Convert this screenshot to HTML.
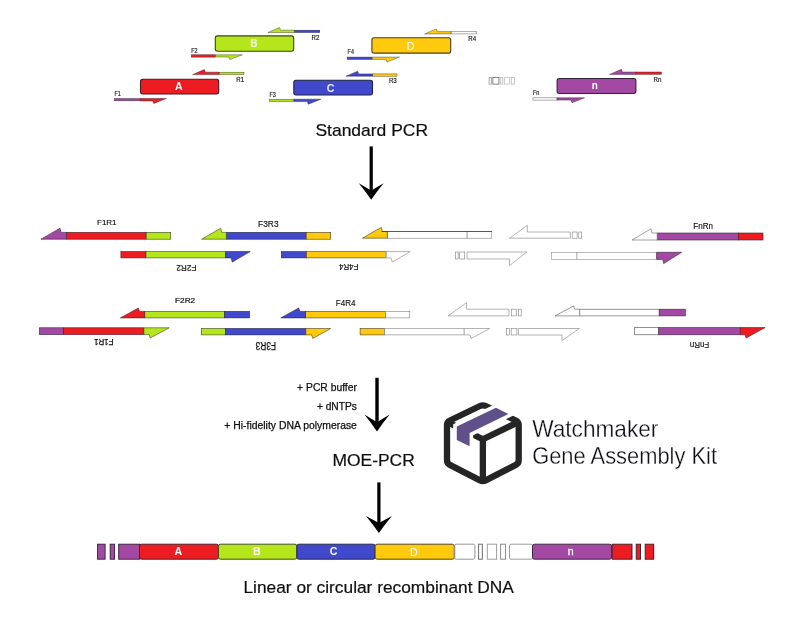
<!DOCTYPE html>
<html><head><meta charset="utf-8"><title>MOE-PCR</title>
<style>
html,body{margin:0;padding:0;background:#fff;}
body{width:794px;height:625px;overflow:hidden;}
svg{display:block;font-family:"Liberation Sans",sans-serif;}
</style></head><body>
<svg width="794" height="625" viewBox="0 0 794 625">
<defs>
<filter id="bl" x="-5%" y="-5%" width="110%" height="110%"><feGaussianBlur stdDeviation="0.68"/></filter>
<filter id="bl2" x="-5%" y="-5%" width="110%" height="110%"><feGaussianBlur stdDeviation="0.4"/></filter>
</defs>
<rect width="794" height="625" fill="#fff"/>
<g filter="url(#bl)">
<rect x="140.5" y="79.3" width="78.2" height="14.7" rx="2.2" fill="#ed1c24" stroke="#451b21" stroke-width="1.1"/>
<text x="178.8" y="90.0" font-size="10.6" font-weight="bold" fill="#fff" fill-opacity="1" text-anchor="middle">A</text>
<rect x="215.3" y="35.9" width="78.4" height="15.3" rx="2.2" fill="#b5e61d" stroke="#3a441f" stroke-width="1.1"/>
<text x="253.9" y="46.5" font-size="10.2" font-weight="bold" fill="#fff" fill-opacity="0.88" text-anchor="middle">B</text>
<rect x="293.8" y="80.2" width="78.7" height="14.8" rx="2.2" fill="#3f48cc" stroke="#222442" stroke-width="1.1"/>
<text x="330.6" y="92.3" font-size="10.6" font-weight="bold" fill="#fff" fill-opacity="0.9" text-anchor="middle">C</text>
<rect x="371.9" y="37.8" width="78.8" height="15.3" rx="2.2" fill="#ffc90e" stroke="#493e1c" stroke-width="1.1"/>
<text x="410.5" y="50.3" font-size="10.6" font-weight="normal" fill="#fff" fill-opacity="1" text-anchor="middle">D</text>
<rect x="557.1" y="78.5" width="78.8" height="15.0" rx="2.2" fill="#a349a4" stroke="#36243a" stroke-width="1.1"/>
<text x="594.9" y="89.1" font-size="10" font-weight="bold" fill="#fff" fill-opacity="1" text-anchor="middle">n</text>
<rect x="114.5" y="98.5" width="25.7" height="2.3" fill="#a349a4" stroke="#36243a" stroke-width="0.45"/>
<polygon points="140.2,98.5 166.3,98.5 153.8,103.5 152.8,100.9 140.2,100.9" fill="#ed1c24" stroke="#451b21" stroke-width="0.45"/>
<rect x="219" y="72.2" width="25.0" height="2.3" fill="#b5e61d" stroke="#3a441f" stroke-width="0.45"/>
<polygon points="219,74.6 192.7,74.6 204.4,69.5 205.4,72.2 219,72.2" fill="#ed1c24" stroke="#451b21" stroke-width="0.45"/>
<rect x="191.3" y="54.8" width="24.2" height="2.3" fill="#ed1c24" stroke="#451b21" stroke-width="0.45"/>
<polygon points="215.5,54.8 242.3,54.8 229.8,59.6 228.8,57.0 215.5,57.0" fill="#b5e61d" stroke="#3a441f" stroke-width="0.45"/>
<rect x="294.3" y="30.2" width="25.5" height="2.3" fill="#3f48cc" stroke="#222442" stroke-width="0.45"/>
<polygon points="294.3,32.5 267.9,32.5 279.6,27.5 280.6,30.2 294.3,30.2" fill="#b5e61d" stroke="#3a441f" stroke-width="0.45"/>
<rect x="269.4" y="99.2" width="24.6" height="2.3" fill="#b5e61d" stroke="#3a441f" stroke-width="0.45"/>
<polygon points="294,99.2 320.8,99.2 308.3,104.2 307.3,101.6 294,101.6" fill="#3f48cc" stroke="#222442" stroke-width="0.45"/>
<rect x="372.4" y="73.9" width="24.6" height="2.3" fill="#ffc90e" stroke="#493e1c" stroke-width="0.45"/>
<polygon points="372.4,76.2 346,76.2 357.7,71.2 358.7,73.9 372.4,73.9" fill="#3f48cc" stroke="#222442" stroke-width="0.45"/>
<rect x="347.2" y="57.1" width="25.1" height="2.3" fill="#3f48cc" stroke="#222442" stroke-width="0.45"/>
<polygon points="372.3,57.1 399.5,57.1 387.0,62.0 386.0,59.4 372.3,59.4" fill="#ffc90e" stroke="#493e1c" stroke-width="0.45"/>
<rect x="451" y="31.6" width="25.4" height="2.3" fill="#ffffff" stroke="#777" stroke-width="0.6"/>
<polygon points="451,33.9 424.6,33.9 436.3,28.9 437.3,31.6 451,31.6" fill="#ffc90e" stroke="#493e1c" stroke-width="0.45"/>
<rect x="532.9" y="97.8" width="24.1" height="2.3" fill="#ffffff" stroke="#777" stroke-width="0.6"/>
<polygon points="557,97.8 584.5,97.8 572.0,102.7 571.0,100.1 557,100.1" fill="#a349a4" stroke="#36243a" stroke-width="0.45"/>
<rect x="635.6" y="72.0" width="25.8" height="2.3" fill="#ed1c24" stroke="#451b21" stroke-width="0.45"/>
<polygon points="635.6,74.4 609.7,74.4 621.4,69.3 622.4,72.0 635.6,72.0" fill="#a349a4" stroke="#36243a" stroke-width="0.45"/>
<rect x="489.1" y="77.5" width="2.5" height="6.6" fill="#fff" stroke="#888" stroke-width="0.7"/>
<rect x="492.9" y="77.5" width="6.0" height="6.6" fill="#fff" stroke="#555" stroke-width="0.7"/>
<rect x="500.2" y="77.5" width="2.6" height="6.6" fill="#fff" stroke="#aaa" stroke-width="0.7"/>
<rect x="504.6" y="77.5" width="5.0" height="6.6" fill="#fff" stroke="#bbb" stroke-width="0.7"/>
<rect x="511.2" y="77.5" width="3.1" height="6.6" fill="#fff" stroke="#aaa" stroke-width="0.7"/>
<text x="114.5" y="96" font-size="6.8" text-anchor="start" fill="#111" stroke="#111" stroke-width="0.15" textLength="6.3" lengthAdjust="spacingAndGlyphs">F1</text>
<text x="244.2" y="81.8" font-size="6.8" text-anchor="end" fill="#111" stroke="#111" stroke-width="0.15" textLength="7.9" lengthAdjust="spacingAndGlyphs">R1</text>
<text x="191.3" y="52.5" font-size="6.8" text-anchor="start" fill="#111" stroke="#111" stroke-width="0.15" textLength="6.3" lengthAdjust="spacingAndGlyphs">F2</text>
<text x="319.5" y="40" font-size="6.8" text-anchor="end" fill="#111" stroke="#111" stroke-width="0.15" textLength="7.9" lengthAdjust="spacingAndGlyphs">R2</text>
<text x="269.4" y="97.2" font-size="6.8" text-anchor="start" fill="#111" stroke="#111" stroke-width="0.15" textLength="6.3" lengthAdjust="spacingAndGlyphs">F3</text>
<text x="396.8" y="82.5" font-size="6.8" text-anchor="end" fill="#111" stroke="#111" stroke-width="0.15" textLength="7.9" lengthAdjust="spacingAndGlyphs">R3</text>
<text x="347.6" y="53.8" font-size="6.8" text-anchor="start" fill="#111" stroke="#111" stroke-width="0.15" textLength="6.3" lengthAdjust="spacingAndGlyphs">F4</text>
<text x="476.2" y="41.4" font-size="6.8" text-anchor="end" fill="#111" stroke="#111" stroke-width="0.15" textLength="7.9" lengthAdjust="spacingAndGlyphs">R4</text>
<text x="532.9" y="94.8" font-size="6.8" text-anchor="start" fill="#111" stroke="#111" stroke-width="0.15" textLength="6.3" lengthAdjust="spacingAndGlyphs">Fn</text>
<text x="661.4" y="81.6" font-size="6.8" text-anchor="end" fill="#111" stroke="#111" stroke-width="0.15" textLength="7.9" lengthAdjust="spacingAndGlyphs">Rn</text>
</g>
<g filter="url(#bl)">
<rect x="66.5" y="232.4" width="79.7" height="6.8" fill="#ed1c24" stroke="#451b21" stroke-width="0.6"/>
<rect x="146.2" y="232.4" width="24.5" height="6.8" fill="#b5e61d" stroke="#3a441f" stroke-width="0.6"/>
<polygon points="41,239.2 60.0,228.2 61.0,232.4 66.5,232.4 66.5,239.2" fill="#a349a4" stroke="#36243a" stroke-width="0.6" stroke-linejoin="miter"/>
<rect x="226.4" y="232.4" width="79.8" height="6.8" fill="#3f48cc" stroke="#222442" stroke-width="0.6"/>
<rect x="306.2" y="232.4" width="24.5" height="6.8" fill="#ffc90e" stroke="#493e1c" stroke-width="0.6"/>
<polygon points="201.7,239.2 220.7,228.2 221.7,232.4 226.4,232.4 226.4,239.2" fill="#b5e61d" stroke="#3a441f" stroke-width="0.6" stroke-linejoin="miter"/>
<rect x="387.3" y="231.5" width="79.8" height="6.7" fill="#ffffff" stroke="#808080" stroke-width="0.6"/>
<rect x="467.1" y="231.5" width="24.7" height="6.7" fill="#ffffff" stroke="#808080" stroke-width="0.6"/>
<polygon points="362.4,238.2 381.4,227.3 382.4,231.5 387.3,231.5 387.3,238.2" fill="#ffc90e" stroke="#493e1c" stroke-width="0.6" stroke-linejoin="miter"/>
<path d="M381.5 231.5 H491.8" stroke="#333" stroke-width="0.7" fill="none"/>
<polygon points="509.5,238.2 527.3,225.4 527.3,232 570.3,232 570.3,238.2" fill="#fff" stroke="#808080" stroke-width="0.6"/>
<rect x="572.2" y="232" width="4.9" height="6.2" fill="#fff" stroke="#808080" stroke-width="0.6"/>
<rect x="578.8" y="232" width="2.9" height="6.2" fill="#fff" stroke="#808080" stroke-width="0.6"/>
<rect x="657.2" y="233" width="81.3" height="7.0" fill="#a349a4" stroke="#36243a" stroke-width="0.6"/>
<rect x="738.5" y="233" width="24.5" height="7.0" fill="#ed1c24" stroke="#451b21" stroke-width="0.6"/>
<polygon points="632,240 651.0,228.8 652.0,233 657.2,233 657.2,240" fill="#ffffff" stroke="#666" stroke-width="0.6" stroke-linejoin="miter"/>
<text x="106.8" y="224.8" font-size="7.9" text-anchor="middle" fill="#111" stroke="#111" stroke-width="0.15" textLength="19.5" lengthAdjust="spacingAndGlyphs">F1R1</text>
<text x="268.3" y="226.8" font-size="9.6" text-anchor="middle" fill="#111" stroke="#111" stroke-width="0.15" textLength="20.5" lengthAdjust="spacingAndGlyphs">F3R3</text>
<text x="703.1" y="229.0" font-size="8.7" text-anchor="middle" fill="#111" stroke="#111" stroke-width="0.15" textLength="19.6" lengthAdjust="spacingAndGlyphs">FnRn</text>
<rect x="120.9" y="251.6" width="25.1" height="6.3" fill="#ed1c24" stroke="#451b21" stroke-width="0.6"/>
<rect x="146" y="251.6" width="79.6" height="6.3" fill="#b5e61d" stroke="#3a441f" stroke-width="0.6"/>
<polygon points="250.2,251.6 232.2,262.1 231.2,257.9 225.6,257.9 225.6,251.6" fill="#3f48cc" stroke="#222442" stroke-width="0.6" stroke-linejoin="miter"/>
<rect x="281.4" y="251.6" width="24.9" height="6.3" fill="#3f48cc" stroke="#222442" stroke-width="0.6"/>
<rect x="306.3" y="251.6" width="79.9" height="6.3" fill="#ffc90e" stroke="#493e1c" stroke-width="0.6"/>
<polygon points="410.2,251.6 392.2,262.1 391.2,257.9 386.2,257.9 386.2,251.6" fill="#ffffff" stroke="#808080" stroke-width="0.6" stroke-linejoin="miter"/>
<rect x="455.4" y="252" width="2.8" height="7.0" fill="#fff" stroke="#808080" stroke-width="0.6"/>
<rect x="459.7" y="252" width="5.0" height="7.0" fill="#fff" stroke="#808080" stroke-width="0.6"/>
<polygon points="526.9,252 509.5,265.6 509.5,259 467,259 467,252" fill="#fff" stroke="#808080" stroke-width="0.6"/>
<rect x="551.4" y="252.3" width="25.6" height="7.1" fill="#ffffff" stroke="#8c8c8c" stroke-width="0.6"/>
<rect x="577" y="252.3" width="79.7" height="7.1" fill="#ffffff" stroke="#8c8c8c" stroke-width="0.6"/>
<polygon points="681.7,252.3 663.7,263.6 662.7,259.4 656.7,259.4 656.7,252.3" fill="#a349a4" stroke="#36243a" stroke-width="0.6" stroke-linejoin="miter"/>
<text transform="translate(186.4,264.7) rotate(180)" font-size="9.6" text-anchor="middle" fill="#111" stroke="#111" stroke-width="0.15" textLength="20.1" lengthAdjust="spacingAndGlyphs">F2R2</text>
<text transform="translate(348.7,264.2) rotate(180)" font-size="8.8" text-anchor="middle" fill="#111" stroke="#111" stroke-width="0.15" textLength="19.4" lengthAdjust="spacingAndGlyphs">F4R4</text>
<rect x="144.7" y="311.4" width="80.0" height="6.5" fill="#b5e61d" stroke="#3a441f" stroke-width="0.6"/>
<rect x="224.7" y="311.4" width="24.8" height="6.5" fill="#3f48cc" stroke="#222442" stroke-width="0.6"/>
<polygon points="120.4,317.9 138.4,308.0 139.4,311.4 144.7,311.4 144.7,317.9" fill="#ed1c24" stroke="#451b21" stroke-width="0.6" stroke-linejoin="miter"/>
<rect x="305.5" y="311.4" width="80.1" height="6.5" fill="#ffc90e" stroke="#493e1c" stroke-width="0.6"/>
<rect x="385.6" y="311.4" width="24.2" height="6.5" fill="#ffffff" stroke="#808080" stroke-width="0.6"/>
<polygon points="280.8,317.9 298.8,308.0 299.8,311.4 305.5,311.4 305.5,317.9" fill="#3f48cc" stroke="#222442" stroke-width="0.6" stroke-linejoin="miter"/>
<polygon points="448.2,315.9 466.5,302.7 466.5,309.2 509,309.2 509,315.9" fill="#fff" stroke="#808080" stroke-width="0.6"/>
<rect x="511.3" y="309.2" width="5.2" height="6.7" fill="#fff" stroke="#808080" stroke-width="0.6"/>
<rect x="518.3" y="309.2" width="2.9" height="6.7" fill="#fff" stroke="#808080" stroke-width="0.6"/>
<rect x="579.7" y="309.2" width="79.5" height="6.7" fill="#ffffff" stroke="#555" stroke-width="0.6"/>
<rect x="659.2" y="309.2" width="26.1" height="6.7" fill="#a349a4" stroke="#36243a" stroke-width="0.6"/>
<polygon points="555,315.9 573.6,306.0 574.6,309.2 579.7,309.2 579.7,315.9" fill="#ffffff" stroke="#555" stroke-width="0.6" stroke-linejoin="miter"/>
<text x="185.1" y="302.8" font-size="8.1" text-anchor="middle" fill="#111" stroke="#111" stroke-width="0.22" textLength="20.0" lengthAdjust="spacingAndGlyphs">F2R2</text>
<text x="345.7" y="305.8" font-size="9.3" text-anchor="middle" fill="#111" stroke="#111" stroke-width="0.15" textLength="19.7" lengthAdjust="spacingAndGlyphs">F4R4</text>
<rect x="39.4" y="327.8" width="24.2" height="6.8" fill="#a349a4" stroke="#36243a" stroke-width="0.6"/>
<rect x="63.6" y="327.8" width="80.3" height="6.8" fill="#ed1c24" stroke="#451b21" stroke-width="0.6"/>
<polygon points="169.2,327.8 150.2,338.0 149.2,334.6 143.9,334.6 143.9,327.8" fill="#b5e61d" stroke="#3a441f" stroke-width="0.6" stroke-linejoin="miter"/>
<rect x="201.3" y="328.5" width="24.2" height="6.4" fill="#b5e61d" stroke="#3a441f" stroke-width="0.6"/>
<rect x="225.5" y="328.5" width="80.3" height="6.4" fill="#3f48cc" stroke="#222442" stroke-width="0.6"/>
<polygon points="330.7,328.5 312.7,338.5 311.7,334.9 305.8,334.9 305.8,328.5" fill="#ffc90e" stroke="#493e1c" stroke-width="0.6" stroke-linejoin="miter"/>
<rect x="360.1" y="328.5" width="24.5" height="6.4" fill="#ffc90e" stroke="#493e1c" stroke-width="0.6"/>
<rect x="384.6" y="328.5" width="79.6" height="6.4" fill="#ffffff" stroke="#808080" stroke-width="0.6"/>
<polygon points="489.7,328.5 471.1,338.5 470.1,334.9 464.2,334.9 464.2,328.5" fill="#ffffff" stroke="#808080" stroke-width="0.6" stroke-linejoin="miter"/>
<rect x="506.6" y="328.5" width="2.9" height="6.5" fill="#fff" stroke="#808080" stroke-width="0.6"/>
<rect x="511.2" y="328.5" width="5.7" height="6.5" fill="#fff" stroke="#808080" stroke-width="0.6"/>
<polygon points="579.4,328.5 561.9,340.6 561.9,335 518.4,335 518.4,328.5" fill="#fff" stroke="#808080" stroke-width="0.6"/>
<rect x="634.7" y="327.6" width="24.1" height="7.2" fill="#ffffff" stroke="#444" stroke-width="0.6"/>
<rect x="658.8" y="327.6" width="81.5" height="7.2" fill="#a349a4" stroke="#36243a" stroke-width="0.6"/>
<polygon points="765.1,327.6 746.1,338.0 745.1,334.8 740.3,334.8 740.3,327.6" fill="#ed1c24" stroke="#451b21" stroke-width="0.6" stroke-linejoin="miter"/>
<text transform="translate(103.7,339.3) rotate(180)" font-size="8.9" text-anchor="middle" fill="#111" stroke="#111" stroke-width="0.25" textLength="19.4" lengthAdjust="spacingAndGlyphs">F1R1</text>
<text transform="translate(265.9,341.5) rotate(180)" font-size="10.0" text-anchor="middle" fill="#111" stroke="#111" stroke-width="0.25" textLength="20.3" lengthAdjust="spacingAndGlyphs">F3R3</text>
<text transform="translate(699.5,342.0) rotate(180)" font-size="8.7" text-anchor="middle" fill="#111" stroke="#111" stroke-width="0.15" textLength="19.6" lengthAdjust="spacingAndGlyphs">FnRn</text>
</g>
<g filter="url(#bl2)">
<rect x="369.6" y="146.4" width="3.2" height="46.2" fill="#000"/>
<path d="M371.2 199.7 Q365.90 191.95 358.8 183.2 L371.2 190.6 L383.59999999999997 183.2 Q376.50 191.95 371.2 199.7 Z" fill="#000"/>
<rect x="375.3" y="377.8" width="3.4" height="46.4" fill="#000"/>
<path d="M377 431.5 Q371.60 423.55 364.4 414.6 L377 422.2 L389.6 414.6 Q382.40 423.55 377 431.5 Z" fill="#000"/>
<rect x="377.3" y="482.4" width="3.2" height="42.6" fill="#000"/>
<path d="M378.9 533.0 Q373.30 525.05 365.9 516.1 L378.9 523.0 L391.9 516.1 Q384.50 525.05 378.9 533.0 Z" fill="#000"/>
<text x="371.75" y="136" font-size="16.4" text-anchor="middle" fill="#111" stroke="#111" stroke-width="0.2" textLength="112.6" lengthAdjust="spacingAndGlyphs">Standard PCR</text>
<text x="373.6" y="465.8" font-size="16.4" text-anchor="middle" fill="#111" stroke="#111" stroke-width="0.2" textLength="82.4" lengthAdjust="spacingAndGlyphs">MOE-PCR</text>
<text x="356.9" y="391.3" font-size="10" text-anchor="end" fill="#111" stroke="#111" stroke-width="0.25" textLength="59.8" lengthAdjust="spacingAndGlyphs">+ PCR buffer</text>
<text x="356.9" y="410.2" font-size="10" text-anchor="end" fill="#111" stroke="#111" stroke-width="0.25" textLength="40" lengthAdjust="spacingAndGlyphs">+ dNTPs</text>
<text x="356.9" y="429" font-size="10" text-anchor="end" fill="#111" stroke="#111" stroke-width="0.25" textLength="132.6" lengthAdjust="spacingAndGlyphs">+ Hi-fidelity DNA polymerase</text>
<text x="378.65" y="593.4" font-size="16.9" text-anchor="middle" fill="#111" stroke="#111" stroke-width="0.2" textLength="270.4" lengthAdjust="spacingAndGlyphs">Linear or circular recombinant DNA</text>
</g>
<g filter="url(#bl)">
<rect x="97.6" y="544.2" width="7.5" height="15.0" rx="0" fill="#a349a4" stroke="#36243a" stroke-width="0.95"/>
<rect x="110.2" y="544.2" width="4.4" height="15.0" rx="0" fill="#a349a4" stroke="#36243a" stroke-width="0.95"/>
<rect x="118.7" y="544.2" width="20.8" height="15.0" rx="0" fill="#a349a4" stroke="#36243a" stroke-width="0.95"/>
<rect x="139.5" y="544.2" width="79.0" height="15.0" rx="2" fill="#ed1c24" stroke="#451b21" stroke-width="0.95"/>
<text x="178.4" y="554.8" font-size="10.6" font-weight="bold" fill="#fff" stroke="#fff" stroke-width="0" text-anchor="middle">A</text>
<rect x="218.5" y="544.2" width="78.4" height="15.0" rx="2" fill="#b5e61d" stroke="#3a441f" stroke-width="0.95"/>
<text x="256.9" y="554.8" font-size="10.6" font-weight="bold" fill="#fff" stroke="#fff" stroke-width="0" text-anchor="middle">B</text>
<rect x="296.9" y="544.2" width="78.2" height="15.0" rx="2" fill="#3f48cc" stroke="#222442" stroke-width="0.95"/>
<text x="333.7" y="554.8" font-size="10.6" font-weight="bold" fill="#fff" stroke="#fff" stroke-width="0" text-anchor="middle">C</text>
<rect x="375.1" y="544.2" width="79.2" height="15.0" rx="2" fill="#ffc90e" stroke="#493e1c" stroke-width="0.95"/>
<text x="413.9" y="555.9" font-size="10.6" font-weight="normal" fill="#fff" stroke="#fff" stroke-width="0.15" text-anchor="middle">D</text>
<rect x="454.8" y="544.2" width="20.1" height="15.0" rx="1.5" fill="#ffffff" stroke="#909090" stroke-width="0.95"/>
<rect x="478.6" y="544.2" width="3.7" height="15.0" rx="0" fill="#ffffff" stroke="#666" stroke-width="0.95"/>
<rect x="487.3" y="544.2" width="9.3" height="15.0" rx="0" fill="#ffffff" stroke="#999" stroke-width="0.95"/>
<rect x="500.6" y="544.2" width="4.9" height="15.0" rx="0" fill="#ffffff" stroke="#888" stroke-width="0.95"/>
<rect x="509.5" y="544.2" width="23.0" height="15.0" rx="1.5" fill="#ffffff" stroke="#999" stroke-width="0.95"/>
<rect x="532.5" y="544.2" width="79.1" height="15.0" rx="2" fill="#a349a4" stroke="#36243a" stroke-width="0.95"/>
<text x="570.6" y="555.1" font-size="10.6" font-weight="normal" fill="#fff" stroke="#fff" stroke-width="0.3" text-anchor="middle">n</text>
<rect x="612.2" y="544.2" width="19.8" height="15.0" rx="0" fill="#ed1c24" stroke="#451b21" stroke-width="0.95"/>
<rect x="636.2" y="544.2" width="4.3" height="15.0" rx="0" fill="#ed1c24" stroke="#451b21" stroke-width="0.95"/>
<rect x="645.2" y="544.2" width="8.5" height="15.0" rx="0" fill="#ed1c24" stroke="#451b21" stroke-width="0.95"/>
</g>
<g id="logo">
<g fill="none" stroke="#252525" stroke-width="6.3" stroke-linejoin="round">
<path d="M479.97 405.99 Q482.85 404.6 485.73 405.99 L515.82 420.51 Q518.7 421.9 518.70 425.10 L518.70 460.20 Q518.7 463.4 515.85 464.86 L485.70 480.34 Q482.85 481.8 480.00 480.34 L449.85 464.86 Q447.0 463.4 447.00 460.20 L447.00 425.10 Q447.0 421.9 449.88 420.51 Z"/>
<path d="M447.0 421.9 L482.85 439.3 L518.7 421.9 M482.85 439.3 L482.85 481.8" stroke-linejoin="miter"/>
</g>
<polygon points="496.0,407.7 508.4,414.0 469.6,432.9 469.6,446.3 456.8,439.9 456.8,426.4" fill="#fff" stroke="#fff" stroke-width="7.2" stroke-linejoin="miter"/>
<polygon points="496.0,407.7 508.4,414.0 469.6,432.9 469.6,446.3 456.8,439.9 456.8,426.4" fill="#5f508a"/>
<g font-size="24" fill="#0c0c16" stroke="#fff" stroke-width="0.32" style="paint-order:fill stroke">
<text x="532.2" y="437" textLength="126.2" lengthAdjust="spacingAndGlyphs">Watchmaker</text>
<text x="532.2" y="464" textLength="184.8" lengthAdjust="spacingAndGlyphs">Gene Assembly Kit</text>
</g>
</g>
</svg>
</body></html>
